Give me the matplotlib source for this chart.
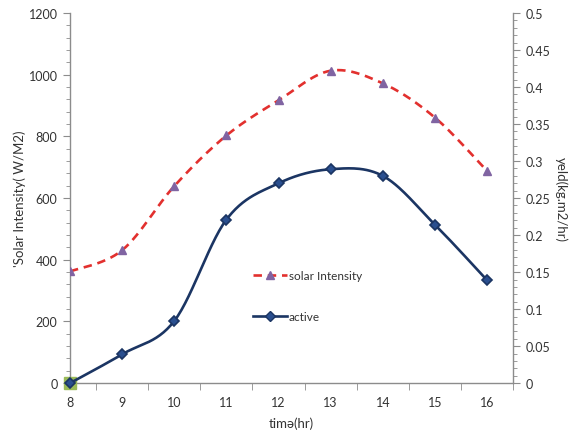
import numpy as np
import matplotlib
matplotlib.use("Agg")
import matplotlib.pyplot as plt
from matplotlib.lines import Line2D
from matplotlib.ticker import MultipleLocator, FixedLocator

plt.rcParams['font.family'] = ['Lato', 'DejaVu Sans']

hours = [8, 9, 10, 11, 12, 13, 14, 15, 16]
solar_intensity = [362, 431, 639, 803, 917, 1013, 972, 861, 688]
active_yield = [0.0, 0.039, 0.084, 0.221, 0.270, 0.289, 0.280, 0.214, 0.139]
x_labels = ['8', '9', '10', '11', '12', '13', '14', '15', '16']


def smooth_curve(xs, ys, n=30):
    """Excel-style smoothed line: cubic Bezier segments through the points."""
    xs = np.asarray(xs, float)
    ys = np.asarray(ys, float)
    P = np.column_stack([xs, ys])
    m = len(P)
    out = []
    for i in range(m - 1):
        p0 = P[i - 1] if i > 0 else P[i]
        p1 = P[i]
        p2 = P[i + 1]
        p3 = P[i + 2] if i + 2 < m else P[i + 1]
        c1 = p1 + (p2 - p0) / 6.0
        c2 = p2 - (p3 - p1) / 6.0
        t = np.linspace(0, 1, n)[:, None]
        seg = ((1 - t) ** 3) * p1 + 3 * ((1 - t) ** 2) * t * c1 + 3 * (1 - t) * t ** 2 * c2 + t ** 3 * p2
        out.append(seg if i == 0 else seg[1:])
    out = np.vstack(out)
    return out[:, 0], out[:, 1]


RED = '#E2302E'
PURPLE = '#8064A2'
NAVY = '#1B3563'
AXC = '#8C8C8C'
TXT = '#333333'

fig = plt.figure(figsize=(5.74, 4.39), dpi=100)
ax = fig.add_axes([0.122, 0.125, 0.772, 0.843])
ax2 = ax.twinx()

# solar intensity (left axis)
sx, sy = smooth_curve(hours, solar_intensity)
ax.plot(sx, sy, color=RED, lw=1.9, dashes=(3.2, 2.2), zorder=3)
ax.plot(hours, solar_intensity, linestyle='none', marker='^', ms=6,
        mfc=PURPLE, mec=PURPLE, zorder=4)

# active yield (right axis)
ax2.plot(hours[:1], active_yield[:1], linestyle='none', marker='s', ms=8,
         mfc='#9BBB59', mec='#9BBB59', zorder=2, clip_on=False)
ax_, ay_ = smooth_curve(hours, active_yield)
ax2.plot(ax_, ay_, color=NAVY, lw=1.9, zorder=3, clip_on=False)
ax2.plot(hours, active_yield, linestyle='none', marker='D', ms=5,
         mfc='#2A4F8F', mec=NAVY, mew=1.2, zorder=4, clip_on=False)

ax.set_xlim(8, 16.5)
ax.set_ylim(0, 1200)
ax2.set_ylim(0, 0.5)

# x ticks: labels at integer hours, tick marks between categories
ax.xaxis.set_major_locator(FixedLocator(hours))
ax.set_xticklabels(x_labels)
ax.xaxis.set_minor_locator(FixedLocator([h + 0.5 for h in hours]))
ax.tick_params(axis='x', which='major', length=0, pad=9, labelsize=9, colors=TXT)
ax.tick_params(axis='x', which='minor', length=5, color=AXC, direction='out')

ax.yaxis.set_major_locator(MultipleLocator(200))
ax.yaxis.set_minor_locator(MultipleLocator(40))
ax.tick_params(axis='y', which='major', length=5, color=AXC, labelsize=9, colors=TXT, pad=4)
ax.tick_params(axis='y', which='minor', length=3, color=AXC)

ax2.yaxis.set_minor_locator(MultipleLocator(0.01))
ax2.set_yticks(np.arange(0, 0.501, 0.05))
ax2.set_yticklabels(['0', '0.05', '0.1', '0.15', '0.2', '0.25', '0.3', '0.35', '0.4', '0.45', '0.5'])
ax2.tick_params(axis='y', which='major', length=5, color=AXC, labelsize=9, colors=TXT, pad=4)
ax2.tick_params(axis='y', which='minor', length=3, color=AXC)

for a in (ax, ax2):
    a.spines['top'].set_visible(False)
    for s in ('left', 'right', 'bottom'):
        a.spines[s].set_color(AXC)
        a.spines[s].set_linewidth(1.0)
ax.spines['right'].set_visible(False)
ax2.spines['left'].set_visible(False)
ax2.spines['bottom'].set_visible(False)

ax.set_xlabel('timə(hr)', fontsize=9.5, color=TXT, labelpad=6)
ax.set_ylabel("'Solar Intensity( W/M2)", fontsize=9.5, color=TXT, labelpad=2)
ax2.set_ylabel('yeld(kg.m2/hr)', fontsize=9.5, color=TXT, rotation=270, labelpad=12)

h1 = Line2D([], [], color=RED, lw=1.9, dashes=(3.2, 2.2), marker='^', ms=6,
            mfc=PURPLE, mec=PURPLE)
h2 = Line2D([], [], color=NAVY, lw=1.9, marker='D', ms=5, mfc='#2A4F8F', mec=NAVY)
leg = ax2.legend([h1, h2], ['solar Intensity', 'active'], frameon=False,
                 loc='upper left', bbox_to_anchor=(0.39, 0.335), fontsize=8.5,
                 labelspacing=2.6, handlelength=2.8, handletextpad=0.2)
for t in leg.get_texts():
    t.set_color(TXT)

fig.savefig('out.png', dpi=100)
